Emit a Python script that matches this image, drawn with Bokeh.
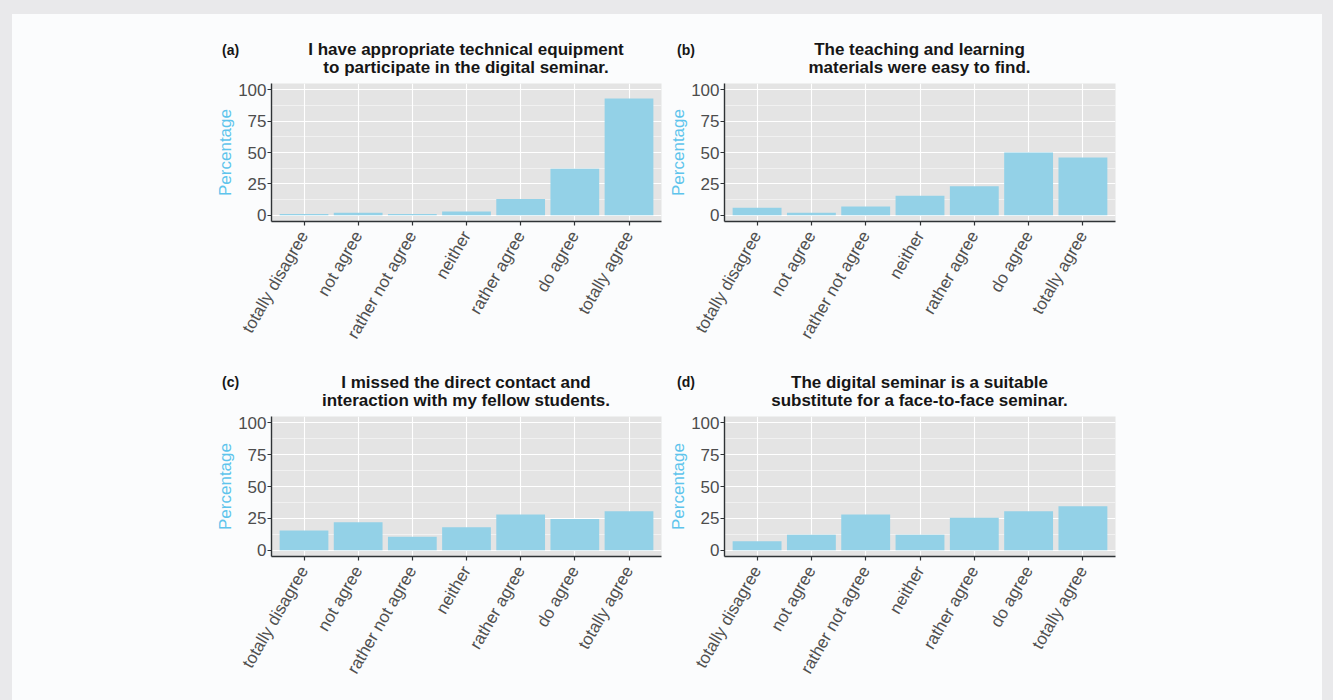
import math
from bokeh.plotting import figure
from bokeh.models import Range1d, FixedTicker, Div
from bokeh.layouts import column, row
from bokeh.embed import file_html
from bokeh.resources import INLINE

categories = ["totally disagree", "not agree", "rather not agree", "neither",
              "rather agree", "do agree", "totally agree"]

pct_a = [1.0, 2.0, 1.0, 3.0, 13.0, 37.0, 93.0]
pct_b = [6.0, 2.0, 7.0, 15.5, 23.0, 50.0, 46.0]
pct_c = [15.5, 22.0, 10.5, 18.0, 28.0, 24.5, 30.5]
pct_d = [7.0, 12.0, 28.0, 12.0, 25.5, 30.5, 34.5]

titles_a = ["I have appropriate technical equipment", "to participate in the digital seminar."]
titles_b = ["The teaching and learning", "materials were easy to find."]
titles_c = ["I missed the direct contact and", "interaction with my fellow students."]
titles_d = ["The digital seminar is a suitable", "substitute for a face-to-face seminar."]
tags = ["(a)", "(b)", "(c)", "(d)"]

y_ticks = [0, 25, 50, 75, 100]
y_minor = [12.5, 37.5, 62.5, 87.5]

FONT = "Liberation Sans"
CSSFONT = "'Liberation Sans', Arial, sans-serif"
PANEL = "#fbfcfd"
OUTER = "#e9e9eb"
BAR = "#93d1e7"
GRIDBG = "#e4e4e4"
AXIS = "#2f3336"
TXT = "#161616"


def header(tag, title_lines, width, height, tag_left, tag_cy, frame_left, frame_w, line1_cy):
    lh = 20
    html = (
        f'<div style="position:relative;width:{width}px;height:{height}px;'
        f'font-family:{CSSFONT};color:{TXT};">'
        f'<div style="position:absolute;left:{tag_left}px;top:{tag_cy - 8}px;'
        f'font-size:14px;line-height:16px;font-weight:bold;white-space:nowrap;">{tag}</div>'
        f'<div style="position:absolute;left:{frame_left}px;width:{frame_w}px;'
        f'top:{line1_cy - lh / 2}px;text-align:center;font-size:17px;'
        f'line-height:{lh}px;font-weight:bold;white-space:nowrap;">{title_lines[0]}</div>'
        f'<div style="position:absolute;left:{frame_left}px;width:{frame_w}px;'
        f'top:{line1_cy + 18 - lh / 2}px;text-align:center;font-size:17px;'
        f'line-height:{lh}px;font-weight:bold;white-space:nowrap;">{title_lines[1]}</div>'
        f'</div>'
    )
    return Div(text=html, width=width, height=height, margin=0,
               styles={"background-color": PANEL})


def make(values, width, height, bl, br, bt, bb):
    n = len(categories)
    p = figure(width=width, height=height, output_backend="svg", toolbar_location=None,
               x_range=Range1d(0.4, n + 0.6), y_range=Range1d(-5, 105),
               min_border_left=bl, min_border_right=br, min_border_top=bt,
               min_border_bottom=bb, margin=0)
    p.background_fill_color = GRIDBG
    p.border_fill_color = PANEL
    p.outline_line_color = None
    xs = list(range(1, n + 1))
    p.vbar(x=xs, top=values, bottom=0, width=0.9, fill_color=BAR, line_color=None)

    # x axis
    p.xaxis.ticker = FixedTicker(ticks=xs)
    p.xaxis.major_label_overrides = {x: c for x, c in zip(xs, categories)}
    p.xaxis.major_label_orientation = math.pi / 3
    p.xaxis.major_label_text_font = FONT
    p.xaxis.major_label_text_font_size = "17px"
    p.xaxis.major_label_text_color = "#505050"
    p.xaxis.major_label_standoff = 7
    # y axis
    p.yaxis.ticker = FixedTicker(ticks=y_ticks, minor_ticks=y_minor)
    p.yaxis.major_label_text_font = FONT
    p.yaxis.major_label_text_font_size = "17px"
    p.yaxis.major_label_text_color = "#4d4d4d"
    p.yaxis.major_label_standoff = 1
    p.yaxis.axis_label = "Percentage"
    p.yaxis.axis_label_text_font = FONT
    p.yaxis.axis_label_text_font_size = "17px"
    p.yaxis.axis_label_text_font_style = "normal"
    p.yaxis.axis_label_text_color = "#5ec4ec"
    p.yaxis.axis_label_standoff = 0
    for ax in (p.xaxis, p.yaxis):
        ax.axis_line_color = AXIS
        ax.axis_line_width = 1.4
        ax.major_tick_line_color = AXIS
        ax.major_tick_line_width = 1.2
        ax.major_tick_out = 4
        ax.major_tick_in = 0
        ax.minor_tick_line_color = None
    # grid
    p.xgrid.grid_line_color = "white"
    p.xgrid.grid_line_width = 1.1
    p.ygrid.grid_line_color = "white"
    p.ygrid.grid_line_width = 1.1
    p.ygrid.minor_grid_line_color = "white"
    p.ygrid.minor_grid_line_width = 0.6
    p.ygrid.minor_grid_line_alpha = 0.8
    return p


WA, WB = 653, 657
# row 1: header 63 px, figure 275 px (frame 138 px high)
ha = header(tags[0], titles_a, WA, 63, 210, 36, 259, 390, 36)
hb = header(tags[1], titles_b, WB, 63, 12, 36, 59, 391, 36)
pa = make(pct_a, WA, 275, 259, 4, 6, 131)
pb = make(pct_b, WB, 275, 59, 207, 6, 131)
# row 2: header 58 px, figure 290 px (frame 140 px high)
hc = header(tags[2], titles_c, WA, 58, 210, 30, 259, 390, 31)
hd = header(tags[3], titles_d, WB, 58, 12, 30, 59, 391, 31)
pc = make(pct_c, WA, 290, 259, 4, 6, 144)
pd = make(pct_d, WB, 290, 59, 207, 6, 144)

layout = column(
    row(column(ha, pa), column(hb, pb)),
    row(column(hc, pc), column(hd, pd)),
    styles={"background-color": PANEL,
            "border-top": f"14px solid {OUTER}",
            "border-left": f"12px solid {OUTER}",
            "border-right": f"11px solid {OUTER}"},
)

open("out.html", "w").write(file_html(layout, INLINE))
